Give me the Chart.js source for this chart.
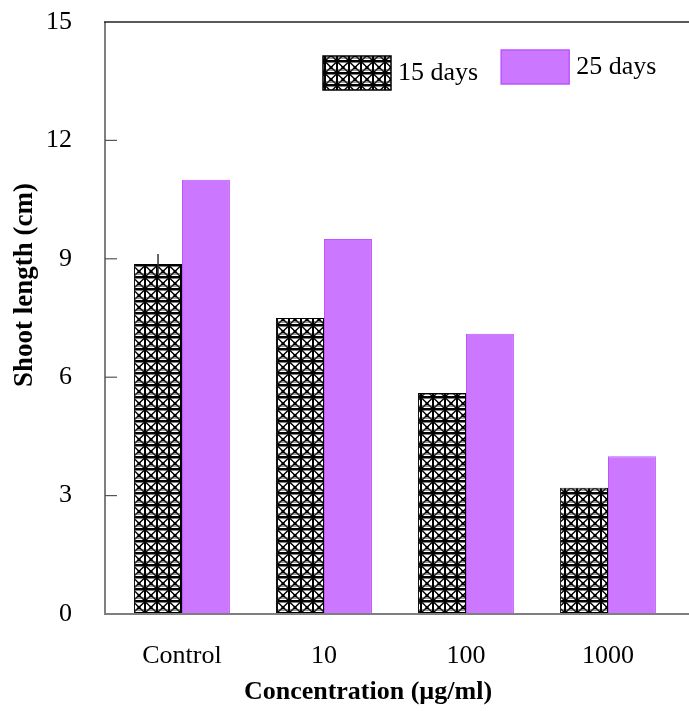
<!DOCTYPE html>
<html><head><meta charset="utf-8">
<script src="https://cdn.jsdelivr.net/npm/chart.js@4.4.0/dist/chart.umd.min.js"></script>
<style>html,body{margin:0;padding:0;background:#fff}#wrap{width:689px;height:711px;position:relative}</style>
</head><body><div id="wrap"><canvas id="c"></canvas></div>
<script>
// ---- data ----
const categories = ['Control', '10', '100', '1000'];
const seriesLabels = ['15 days', '25 days'];
const days15 = [8.87, 7.5, 5.6, 3.2];
const days25 = [11.0, 9.5, 7.1, 4.0];
const err15 = [0.25, 0, 0, 0];
const yTicks = [0, 3, 6, 9, 12, 15];
const xTitle = 'Concentration (µg/ml)';
const yTitle = 'Shoot length (cm)';

// ---- styles ----
const FONT = "'Liberation Serif', 'Times New Roman', serif";
const purple = '#cc77ff';
const purpleBorder = '#bb55ff';

function makePattern() {
  const c = document.createElement('canvas');
  c.width = 12; c.height = 12;
  const g = c.getContext('2d');
  g.fillStyle = '#fff'; g.fillRect(0, 0, 12, 12);
  g.fillStyle = '#000';
  g.fillRect(0, 0, 12, 2.5);
  g.fillRect(0, 0, 2, 12);
  g.strokeStyle = '#000'; g.lineWidth = 1.4;
  g.beginPath();
  g.moveTo(2, 2.5); g.lineTo(12, 12);
  g.moveTo(12, 2.5); g.lineTo(2, 12);
  g.stroke();
  g.fillStyle = '#333';
  g.fillRect(2, 9.5, 10, 1);
  g.fillStyle = '#000';
  g.fillRect(5.5, 6, 3, 3);
  return g.createPattern(c, 'repeat');
}
const hatch = makePattern();

const frameAndErrors = {
  id: 'frameAndErrors',
  afterDatasetsDraw(chart) {
    const ctx = chart.ctx, ca = chart.chartArea, ys = chart.scales.y;
    const axisX = ca.left - 6;
    ctx.save();
    // error bars
    const meta = chart.getDatasetMeta(0);
    ctx.strokeStyle = '#333'; ctx.lineWidth = 1.5;
    meta.data.forEach((el, i) => {
      const e = err15[i];
      if (!e) return;
      const v = days15[i];
      ctx.beginPath();
      ctx.moveTo(el.x, ys.getPixelForValue(v + e));
      ctx.lineTo(el.x, ys.getPixelForValue(v - e));
      ctx.stroke();
    });
    // frame
    ctx.strokeStyle = '#7f7f7f'; ctx.lineWidth = 2;
    ctx.beginPath();
    ctx.moveTo(axisX, ca.top); ctx.lineTo(axisX, ca.bottom);
    ctx.lineTo(chart.width, ca.bottom);
    ctx.stroke();
    ctx.strokeStyle = '#222'; ctx.lineWidth = 1.5;
    ctx.beginPath();
    ctx.moveTo(axisX - 1, ca.top); ctx.lineTo(chart.width, ca.top);
    ctx.stroke();
    ctx.strokeStyle = '#555'; ctx.lineWidth = 1.2;
    ys.ticks.forEach(t => {
      if (t.value === ys.min || t.value === ys.max) return;
      const y = ys.getPixelForValue(t.value);
      ctx.beginPath(); ctx.moveTo(axisX, y); ctx.lineTo(axisX + 12, y); ctx.stroke();
    });
    ctx.restore();
  },
  afterDraw(chart) {
    const ctx = chart.ctx;
    ctx.save();
    // axis titles
    ctx.fillStyle = '#000';
    ctx.textAlign = 'center'; ctx.textBaseline = 'middle';
    ctx.font = 'bold 26px ' + FONT;
    ctx.fillText(xTitle, 368, 692);
    ctx.save();
    ctx.translate(25, 285);
    ctx.rotate(-Math.PI / 2);
    ctx.font = 'bold 27px ' + FONT;
    ctx.fillText(yTitle, 0, 0);
    ctx.restore();
    // legend inside the plot
    const boxW = 68, boxH = 34;
    const yOff = [56, 50];
    let x = 323;
    ctx.font = '26px ' + FONT;
    ctx.textBaseline = 'middle';
    ctx.textAlign = 'left';
    chart.data.datasets.forEach((ds, i) => {
      const y = yOff[i];
      ctx.fillStyle = ds.backgroundColor;
      ctx.fillRect(x, y, boxW, boxH);
      ctx.strokeStyle = ds.borderColor; ctx.lineWidth = 1.5;
      ctx.strokeRect(x, y, boxW, boxH);
      ctx.fillStyle = '#000';
      const tx = x + boxW + 7;
      ctx.fillText(ds.label, tx, y + boxH / 2);
      x = tx + ctx.measureText(ds.label).width + 23;
    });
    ctx.restore();
  }
};

new Chart(document.getElementById('c'), {
  type: 'bar',
  data: {
    labels: categories,
    datasets: [
      { label: seriesLabels[0], data: days15, backgroundColor: hatch, borderColor: '#000', borderWidth: 1 },
      { label: seriesLabels[1], data: days25, backgroundColor: purple, borderColor: purpleBorder, borderWidth: 1 }
    ]
  },
  options: {
    responsive: true,
    maintainAspectRatio: false,
    animation: false,
    devicePixelRatio: 1,
    layout: { padding: { top: 22, right: 10, left: 0, bottom: 0 } },
    plugins: { legend: { display: false }, tooltip: { enabled: false } },
    datasets: { bar: { categoryPercentage: 0.675, barPercentage: 1 } },
    scales: {
      x: {
        grid: { display: false },
        border: { display: false },
        ticks: { color: '#000', font: { family: FONT, size: 26 }, padding: 19, maxRotation: 0 },
        afterFit: s => { s.height = 97; s.paddingLeft = 0; s.paddingRight = 0; }
      },
      y: {
        min: 0, max: 15,
        afterBuildTicks: s => { s.ticks = yTicks.map(v => ({ value: v })); },
        grid: { display: false },
        border: { display: false },
        ticks: { color: '#000', font: { family: FONT, size: 26 }, padding: 31 },
        afterFit: s => { s.width = 111; s.paddingTop = 0; s.paddingBottom = 0; }
      }
    }
  },
  plugins: [frameAndErrors]
});
</script>
</body></html>
